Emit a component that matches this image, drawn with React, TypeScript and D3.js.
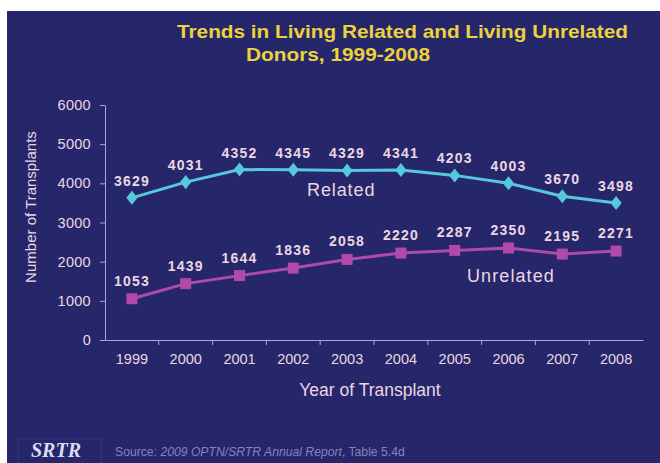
import React, { useEffect, useRef } from "react";
import * as d3 from "d3";

// data
const years = ["1999", "2000", "2001", "2002", "2003", "2004", "2005", "2006", "2007", "2008"];
const related = [3629, 4031, 4352, 4345, 4329, 4341, 4203, 4003, 3670, 3498];
const unrelated = [1053, 1439, 1644, 1836, 2058, 2220, 2287, 2350, 2195, 2271];
const yTicks = [0, 1000, 2000, 3000, 4000, 5000, 6000];

const W = 660;
const H = 463;
const BG = "#26266a";
const TXT = "#ecd6e2";
const SANS = "Liberation Sans, Arial, sans-serif";

const App = () => {
    const ref = useRef<SVGSVGElement | null>(null);

    useEffect(() => {
        const svg = d3.select(ref.current);
        svg.selectAll("*").remove();

        svg.append("rect").attr("width", W).attr("height", H).attr("fill", "#ffffff");
        svg.append("rect").attr("x", 7).attr("y", 11).attr("width", W - 7).attr("height", H - 11).attr("fill", BG);

        // title
        const title = svg.append("g")
            .attr("font-family", SANS)
            .attr("font-weight", "bold")
            .attr("font-size", 19)
            .attr("fill", "#ecd23c");
        title.append("text")
            .attr("x", 177).attr("y", 38)
            .attr("textLength", 451).attr("lengthAdjust", "spacingAndGlyphs")
            .text("Trends in Living Related and Living Unrelated");
        title.append("text")
            .attr("x", 246).attr("y", 61)
            .attr("textLength", 184).attr("lengthAdjust", "spacingAndGlyphs")
            .text("Donors, 1999-2008");

        const x = d3.scaleBand().domain(years).range([105, 643]);
        const y = d3.scaleLinear().domain([0, 6000]).range([340, 105]);
        const cx = (d: string) => (x(d) as number) + x.bandwidth() / 2;

        // y axis
        const yAxis = svg.append("g")
            .attr("transform", "translate(105,0)")
            .call(d3.axisLeft(y).tickValues(yTicks).tickFormat(d3.format("d")).tickSize(5).tickSizeOuter(0).tickPadding(9));
        yAxis.select(".domain").attr("stroke", "#a8a8d0");
        yAxis.selectAll(".tick line").attr("stroke", "#a8a8d0");
        yAxis.selectAll(".tick text")
            .attr("fill", TXT)
            .attr("font-size", 14.5)
            .attr("letter-spacing", 0.3)
            .attr("font-family", SANS);

        // x axis
        const xAxis = svg.append("g")
            .attr("transform", "translate(0,340)")
            .call(d3.axisBottom(x).tickSize(0).tickPadding(14));
        xAxis.select(".domain").attr("stroke", "#a8a8d0");
        xAxis.selectAll(".tick text")
            .attr("fill", TXT)
            .attr("font-size", 14.5)
            .attr("font-family", SANS);
        // tick marks sit on band boundaries
        xAxis.selectAll(".bnd")
            .data(years.slice(1))
            .enter()
            .append("line")
            .attr("x1", d => x(d) as number)
            .attr("x2", d => x(d) as number)
            .attr("y1", 0)
            .attr("y2", 5)
            .attr("stroke", "#a8a8d0");

        // axis titles
        svg.append("text")
            .attr("transform", "translate(36,207) rotate(-90)")
            .attr("text-anchor", "middle")
            .attr("font-family", SANS)
            .attr("font-size", 15)
            .attr("fill", TXT)
            .text("Number of Transplants");
        svg.append("text")
            .attr("x", 370)
            .attr("y", 396)
            .attr("text-anchor", "middle")
            .attr("font-family", SANS)
            .attr("font-size", 17.5)
            .attr("fill", TXT)
            .text("Year of Transplant");

        const line = d3.line<number>()
            .x((_, i) => cx(years[i]))
            .y(d => y(d));

        // related series
        svg.append("path")
            .datum(related)
            .attr("d", line)
            .attr("fill", "none")
            .attr("stroke", "#56c8da")
            .attr("stroke-width", 3);
        svg.selectAll(".rel")
            .data(related)
            .enter()
            .append("path")
            .attr("d", d3.symbol(d3.symbolDiamond, 70))
            .attr("transform", (d, i) => `translate(${cx(years[i])},${y(d)}) scale(1.25,0.9)`)
            .attr("fill", "#56c8da");

        // unrelated series
        svg.append("path")
            .datum(unrelated)
            .attr("d", line)
            .attr("fill", "none")
            .attr("stroke", "#b04aa8")
            .attr("stroke-width", 3);
        svg.selectAll(".unrel")
            .data(unrelated)
            .enter()
            .append("rect")
            .attr("x", (d, i) => cx(years[i]) - 5.5)
            .attr("y", d => y(d) - 5.5)
            .attr("width", 11)
            .attr("height", 11)
            .attr("fill", "#b04aa8");

        // value labels
        const labels = svg.append("g")
            .attr("font-family", SANS)
            .attr("font-weight", "bold")
            .attr("font-size", 14)
            .attr("letter-spacing", 1.2)
            .attr("fill", TXT)
            .attr("text-anchor", "middle");
        labels.selectAll(".rl")
            .data(related)
            .enter()
            .append("text")
            .attr("x", (d, i) => cx(years[i]))
            .attr("y", d => y(d) - 12)
            .text(d => d);
        labels.selectAll(".ul")
            .data(unrelated)
            .enter()
            .append("text")
            .attr("x", (d, i) => cx(years[i]))
            .attr("y", d => y(d) - 13)
            .text(d => d);

        // series names
        svg.append("text")
            .attr("x", 307)
            .attr("y", 196)
            .attr("font-family", SANS)
            .attr("font-size", 18)
            .attr("letter-spacing", 0.9)
            .attr("fill", TXT)
            .text("Related");
        svg.append("text")
            .attr("x", 467)
            .attr("y", 282)
            .attr("font-family", SANS)
            .attr("font-size", 18)
            .attr("letter-spacing", 1.1)
            .attr("fill", TXT)
            .text("Unrelated");

        // footer
        svg.append("rect")
            .attr("x", 18)
            .attr("y", 439)
            .attr("width", 83)
            .attr("height", 30)
            .attr("fill", "none")
            .attr("stroke", "#34347e")
            .attr("stroke-width", 1);
        svg.append("text")
            .attr("x", 31)
            .attr("y", 457)
            .attr("font-family", "Liberation Serif, Times New Roman, serif")
            .attr("font-weight", "bold")
            .attr("font-style", "italic")
            .attr("font-size", 20)
            .attr("fill", "#dcdcf0")
            .text("SRTR");
        const src = svg.append("text")
            .attr("x", 115)
            .attr("y", 456)
            .attr("font-family", SANS)
            .attr("font-size", 12.2)
            .attr("fill", "#8484bc");
        src.append("tspan").text("Source: ");
        src.append("tspan").attr("font-style", "italic").text("2009 OPTN/SRTR Annual Report");
        src.append("tspan").text(", Table 5.4d");
    }, []);

    return (
        <svg
            ref={ref}
            width={W}
            height={H}
            style={{ position: "absolute", left: 0, top: 0, display: "block" }}
        />
    );
};

export default App;
